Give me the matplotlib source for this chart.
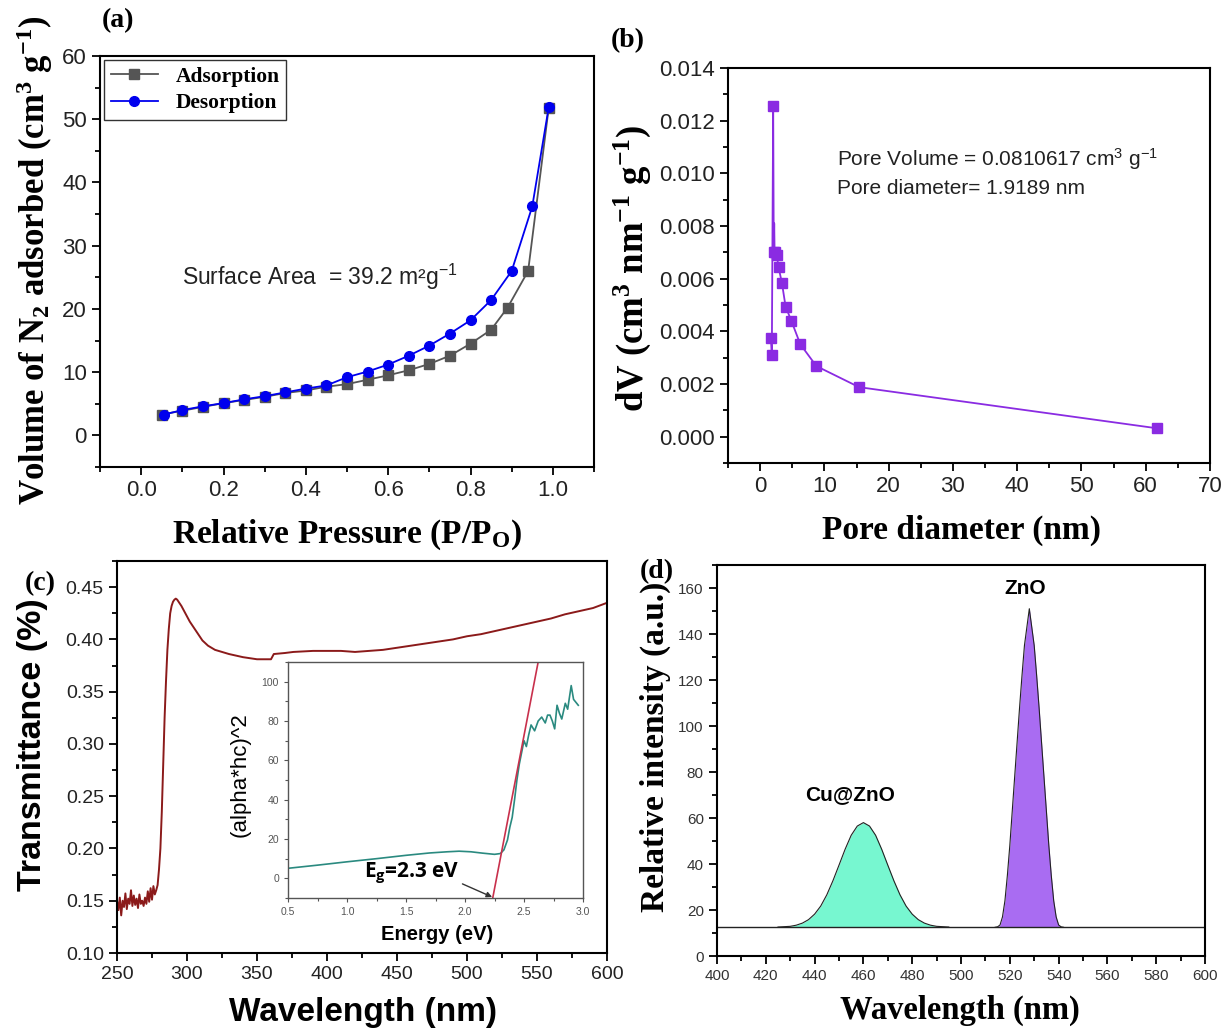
import numpy as np
import matplotlib
matplotlib.use('Agg')
import matplotlib.pyplot as plt
from matplotlib.ticker import MultipleLocator

plt.rcParams['mathtext.default'] = 'regular'
plt.rcParams['font.family'] = ['Liberation Sans', 'DejaVu Sans']

SERIF = ['Liberation Serif', 'DejaVu Serif']
SANS = ['Liberation Sans', 'DejaVu Sans']

# (a) N2 isotherm
ads_p = [0.05, 0.10, 0.15, 0.20, 0.25, 0.30, 0.35, 0.40, 0.45, 0.50,
         0.55, 0.60, 0.65, 0.70, 0.75, 0.80, 0.85, 0.89, 0.94, 0.99]
ads_v = [3.3, 3.9, 4.5, 5.1, 5.6, 6.1, 6.7, 7.1, 7.7, 8.1,
         8.8, 9.5, 10.3, 11.3, 12.6, 14.5, 16.7, 20.2, 26.0, 51.8]
des_p = [0.055, 0.10, 0.15, 0.20, 0.25, 0.30, 0.35, 0.40, 0.45, 0.50,
         0.55, 0.60, 0.65, 0.70, 0.75, 0.80, 0.85, 0.90, 0.95, 0.99]
des_v = [3.3, 4.0, 4.6, 5.1, 5.7, 6.2, 6.8, 7.4, 7.9, 9.2,
         10.1, 11.2, 12.6, 14.2, 16.1, 18.2, 21.4, 26.0, 36.2, 51.9]

# (b) pore size distribution
pore_d = [1.67, 1.82, 2.03, 2.12, 2.19, 2.25, 2.6, 2.86, 3.39, 3.96, 4.84, 6.25, 8.75, 15.4, 61.7]
pore_dv = [0.00375, 0.0031, 0.01255, 0.0070, 0.0081, 0.0070, 0.00688, 0.00644, 0.00584,
           0.00494, 0.00441, 0.00351, 0.00268, 0.00188, 0.00032]
pore_marked = [0, 1, 2, 3, 5, 6, 7, 8, 9, 10, 11, 12, 13, 14]

# (c) transmittance
wl_t = [250, 251, 252, 253, 254, 255, 256, 257, 258, 259, 260, 261, 262, 263, 264,
        265, 266, 267, 268, 269, 270, 271, 272, 273, 274, 275, 276, 277, 278, 279,
        280, 281, 282, 283, 284, 285, 286, 287, 288, 289, 290, 291, 292, 293, 294,
        296, 298, 300, 302, 305, 308, 311, 315, 320, 325, 330, 340, 350, 358, 360,
        362, 370, 376, 390, 400, 410, 420, 430, 440, 450, 460, 470, 480, 490, 500,
        510, 520, 530, 540, 550, 560, 570, 580, 590, 600]
trans = [0.150, 0.141, 0.153, 0.136, 0.150, 0.144, 0.157, 0.142, 0.152, 0.147, 0.160, 0.145, 0.155, 0.146, 0.152,
         0.143, 0.156, 0.147, 0.150, 0.145, 0.153, 0.147, 0.159, 0.149, 0.162, 0.151, 0.164, 0.156, 0.160, 0.165,
         0.180, 0.200, 0.235, 0.280, 0.325, 0.360, 0.390, 0.410, 0.425, 0.432, 0.436, 0.438, 0.439, 0.438, 0.436,
         0.432, 0.427, 0.422, 0.417, 0.411, 0.405, 0.399, 0.394, 0.390, 0.388, 0.386, 0.383, 0.381, 0.381, 0.381,
         0.386, 0.387, 0.388, 0.389, 0.389, 0.389, 0.388, 0.389, 0.390, 0.392, 0.394, 0.396, 0.398, 0.400, 0.403,
         0.405, 0.408, 0.411, 0.414, 0.417, 0.420, 0.424, 0.427, 0.430, 0.435]

# (c) inset Tauc plot
energy = [0.5, 0.75, 1.0, 1.25, 1.5, 1.7, 1.85, 1.95, 2.05, 2.15, 2.25, 2.3, 2.33, 2.36, 2.38,
          2.40, 2.42, 2.44, 2.46, 2.48, 2.50, 2.52, 2.54, 2.56, 2.59, 2.62, 2.65, 2.68, 2.70,
          2.72, 2.74, 2.76, 2.78, 2.80, 2.82, 2.85, 2.87, 2.90, 2.92, 2.96]
tauc = [5.1, 6.7, 8.4, 10.0, 11.7, 12.9, 13.5, 13.8, 13.5, 12.8, 12.2, 12.6, 14.5, 19.5, 26.0,
        31.0, 40.0, 50.0, 58.0, 64.0, 70.0, 67.0, 73.0, 78.0, 75.0, 80.0, 82.0, 79.0, 83.0,
        83.0, 80.0, 76.0, 88.0, 84.0, 81.0, 89.0, 86.0, 98.0, 91.0, 88.0]
fit_e = [2.235, 2.62]
fit_y = [-10, 110]

# (d) PL spectra
BASELINE = 12.5
cu_wl = [425, 430, 432.5, 435, 437.5, 440, 442.5, 445, 447.5, 450, 452.5, 455, 457.5, 460,
         462.5, 465, 467.5, 470, 472.5, 475, 477.5, 480, 482.5, 485, 487.5, 490, 495]
cu_int = [12.6, 12.9, 13.4, 14.3, 15.8, 18.2, 21.7, 26.6, 32.7, 39.5, 46.4, 52.5, 56.5, 58.0,
          56.5, 52.5, 46.4, 39.5, 32.7, 26.6, 21.7, 18.2, 15.8, 14.3, 13.4, 12.9, 12.6]
zn_wl = [514, 515, 516, 517, 518, 519, 520, 521, 522, 523, 524, 525, 526, 527, 528,
         529, 530, 531, 532, 533, 534, 535, 536, 537, 538, 539, 540, 541, 542]
zn_int = [12.5, 12.7, 13.5, 17, 24, 35, 48, 63, 78, 93, 108, 122, 135, 143, 151,
          143, 135, 122, 108, 93, 78, 63, 48, 35, 24, 17, 13.5, 12.7, 12.5]

W, H = 1223, 1030
fig = plt.figure(figsize=(W / 100, H / 100), dpi=100)


def px_axes(l, t, r, b):
    return fig.add_axes([l / W, 1 - b / H, (r - l) / W, (b - t) / H])


def style(ax, size, color='#222222'):
    for s in ax.spines.values():
        s.set_linewidth(1.5)
    ax.tick_params(which='both', direction='out', top=False, right=False,
                   labelsize=size, labelcolor=color, width=1.3)
    ax.tick_params(which='major', length=6)
    ax.tick_params(which='minor', length=3.5)


def label_at(ax, box, xl, yl):
    l, t, r, b = box
    ax.xaxis.set_label_coords((xl[0] - l) / (r - l), (b - xl[1]) / (b - t))
    ax.yaxis.set_label_coords((yl[0] - l) / (r - l), (b - yl[1]) / (b - t))


# ---- (a)
box_a = (100, 56, 594, 467)
ax1 = px_axes(*box_a)
ax1.plot(ads_p, ads_v, color='#555555', marker='s', ms=7, lw=1.3, label='Adsorption')
ax1.plot(des_p, des_v, color='#0000EE', marker='o', ms=7, lw=1.3, label='Desorption')
ax1.set_xlim(-0.1, 1.1)
ax1.set_ylim(-5, 60)
ax1.xaxis.set_major_locator(MultipleLocator(0.2))
ax1.xaxis.set_minor_locator(MultipleLocator(0.1))
ax1.yaxis.set_major_locator(MultipleLocator(10))
ax1.yaxis.set_minor_locator(MultipleLocator(5))
style(ax1, 16)
ax1.set_xlabel('Relative Pressure (P/P$_O$)', family=SERIF, weight='bold', size=24, va='center')
ax1.set_ylabel('Volume of N$_2$ adsorbed (cm$^3$ g$^{-1}$)', family=SERIF, weight='bold', size=25, va='center')
label_at(ax1, box_a, (347, 535), (35, 260))
leg = ax1.legend(loc='upper left', frameon=True, fancybox=False, edgecolor='black',
                 prop={'family': SERIF, 'weight': 'bold', 'size': 15.5},
                 borderaxespad=0.2, handlelength=2.2, borderpad=0.3, labelspacing=0.3)
leg.get_frame().set_linewidth(1.0)
ax1.text(0.10, 25, 'Surface Area  = 39.2 m\u00b2g$^{-1}$', fontsize=16.5, family=SANS,
         color='#222222', va='center')
fig.text(118 / W, 1 - 21 / H, '(a)', family=SERIF, weight='bold', size=20, ha='center', va='center')

# ---- (b)
box_b = (728, 68, 1210, 463)
ax2 = px_axes(*box_b)
ax2.plot(pore_d, pore_dv, color='#8A2BE2', marker='s', ms=7, lw=1.3, markevery=pore_marked)
ax2.set_xlim(-5, 70)
ax2.set_ylim(-0.001, 0.014)
ax2.xaxis.set_major_locator(MultipleLocator(10))
ax2.xaxis.set_minor_locator(MultipleLocator(5))
ax2.yaxis.set_major_locator(MultipleLocator(0.002))
ax2.yaxis.set_minor_locator(MultipleLocator(0.001))
ax2.yaxis.set_major_formatter(matplotlib.ticker.FormatStrFormatter('%.3f'))
style(ax2, 16)
ax2.set_xlabel('Pore diameter (nm)', family=SERIF, weight='bold', size=24, va='center')
ax2.set_ylabel('dV (cm$^3$ nm$^{-1}$ g$^{-1}$)', family=SERIF, weight='bold', size=26.5, va='center')
label_at(ax2, box_b, (962, 530), (632, 268))
ax2.text(12, 0.0103, 'Pore Volume = 0.0810617 cm$^3$ g$^{-1}$', fontsize=15, family=SANS, color='#222222')
ax2.text(12, 0.0092, 'Pore diameter= 1.9189 nm', fontsize=15, family=SANS, color='#222222')
fig.text(628 / W, 1 - 41 / H, '(b)', family=SERIF, weight='bold', size=20, ha='center', va='center')

# ---- (c)
box_c = (117, 561, 607, 953)
ax3 = px_axes(*box_c)
ax3.plot(wl_t, trans, color='#8B1A1A', lw=1.4)
ax3.set_xlim(250, 600)
ax3.set_ylim(0.10, 0.475)
ax3.xaxis.set_major_locator(MultipleLocator(50))
ax3.xaxis.set_minor_locator(MultipleLocator(25))
ax3.yaxis.set_major_locator(MultipleLocator(0.05))
ax3.yaxis.set_minor_locator(MultipleLocator(0.025))
ax3.yaxis.set_major_formatter(matplotlib.ticker.FormatStrFormatter('%.2f'))
style(ax3, 14)
ax3.set_xlabel('Wavelength (nm)', family=SANS, weight='bold', size=24, va='center')
ax3.set_ylabel('Transmittance (%)', family=SANS, weight='bold', size=24.5, va='center')
label_at(ax3, box_c, (363, 1012), (33, 745))
fig.text(40 / W, 1 - 584 / H, '(c)', family=SERIF, weight='bold', size=20, ha='center', va='center')

# inset
box_i = (288, 662, 583, 898)
axi = px_axes(*box_i)
axi.plot(energy, tauc, color='#2A8A80', lw=1.2)
axi.plot(fit_e, fit_y, color='#C8304C', lw=1.2)
axi.set_xlim(0.5, 3.0)
axi.set_ylim(-10, 110)
axi.xaxis.set_major_locator(MultipleLocator(0.5))
axi.xaxis.set_minor_locator(MultipleLocator(0.25))
axi.yaxis.set_major_locator(MultipleLocator(20))
axi.yaxis.set_minor_locator(MultipleLocator(10))
for s in axi.spines.values():
    s.set_linewidth(1.0)
    s.set_color('#555555')
axi.tick_params(which='both', direction='out', labelsize=7.5, labelcolor='#555555', color='#555555', width=0.8)
axi.tick_params(which='major', length=3)
axi.tick_params(which='minor', length=2)
axi.set_xlabel('Energy (eV)', family=SANS, weight='bold', size=14.5, va='center')
axi.set_ylabel('(alpha*hc)^2', family=SANS, size=16, va='center')
label_at(axi, box_i, (437, 934), (240, 775))
axi.annotate('E$_g$=2.3 eV', xy=(2.23, -9.5), xytext=(1.55, 2.7), fontsize=15, weight='bold',
             family=['Open Sans', 'DejaVu Sans'], ha='center', va='center',
             arrowprops=dict(arrowstyle='-|>', color='#333333', lw=1.0, mutation_scale=8,
                             shrinkA=0, shrinkB=0, relpos=(0.95, 0.2)))

# ---- (d)
box_d = (717, 565, 1205, 956)
ax4 = px_axes(*box_d)
ax4.axhline(BASELINE, color='#222222', lw=1.0)
ax4.fill_between(cu_wl, cu_int, BASELINE, color='#77F7D0', lw=0)
ax4.plot(cu_wl, cu_int, color='#222222', lw=0.8)
ax4.fill_between(zn_wl, zn_int, BASELINE, color='#A96CF2', lw=0)
ax4.plot(zn_wl, zn_int, color='#222222', lw=0.8)
ax4.set_xlim(400, 600)
ax4.set_ylim(0, 170)
ax4.xaxis.set_major_locator(MultipleLocator(20))
ax4.xaxis.set_minor_locator(MultipleLocator(10))
ax4.yaxis.set_major_locator(MultipleLocator(20))
ax4.yaxis.set_minor_locator(MultipleLocator(10))
style(ax4, 11, '#333333')
ax4.set_xlabel('Wavelength (nm)', family=SERIF, weight='bold', size=23.5, va='center')
ax4.set_ylabel('Relative intensity (a.u.)', family=SERIF, weight='bold', size=24, va='center')
label_at(ax4, box_d, (960, 1010), (655, 747))
ax4.text(454.5, 70, 'Cu@ZnO', fontsize=15, weight='bold', family=SANS, ha='center', va='center')
ax4.text(526.5, 160, 'ZnO', fontsize=15, weight='bold', family=SANS, ha='center', va='center')
fig.text(657 / W, 1 - 572 / H, '(d)', family=SERIF, weight='bold', size=20, ha='center', va='center')

fig.savefig('out.png', dpi=100)
